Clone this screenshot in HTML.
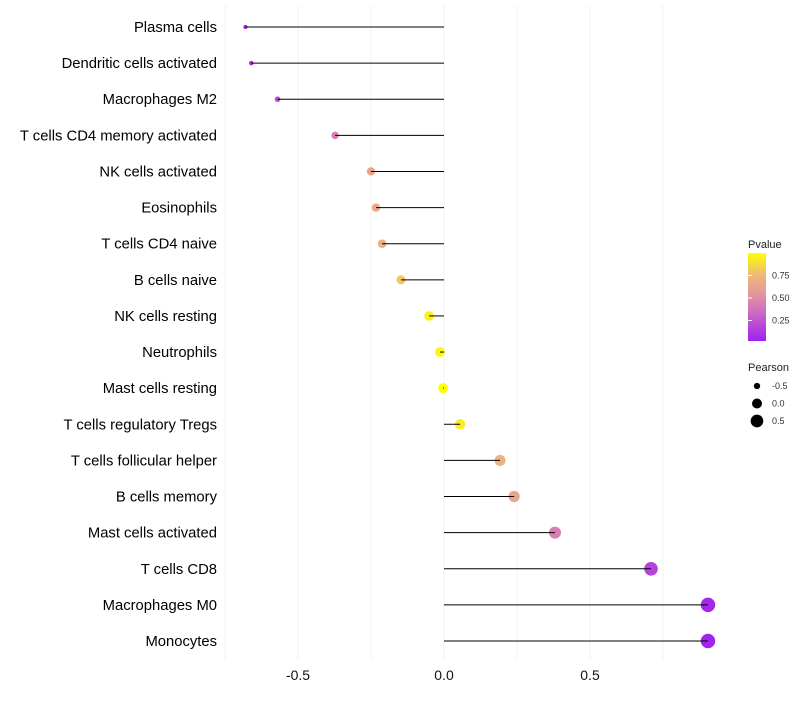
<!DOCTYPE html>
<html><head><meta charset="utf-8"><style>
body{margin:0;background:#fff;font-family:"Liberation Sans",sans-serif}
</style></head><body>
<svg id="c" width="800" height="700" xmlns="http://www.w3.org/2000/svg"></svg>
<script>
const categories=["Plasma cells","Dendritic cells activated","Macrophages M2","T cells CD4 memory activated","NK cells activated","Eosinophils","T cells CD4 naive","B cells naive","NK cells resting","Neutrophils","Mast cells resting","T cells regulatory  Tregs ","T cells follicular helper","B cells memory","Mast cells activated","T cells CD8","Macrophages M0","Monocytes"];
const pearson=[-0.68,-0.66,-0.57,-0.373,-0.25,-0.233,-0.212,-0.147,-0.051,-0.014,-0.003,0.055,0.192,0.24,0.38,0.709,0.904,0.904];
const pvalue=[0.04,0.06,0.2,0.42,0.62,0.66,0.7,0.8,0.95,0.98,1.0,0.93,0.72,0.63,0.42,0.15,0.03,0.02];
const xTicks=[-0.5,0,0.5];
const xTickLabels=["-0.5","0.0","0.5"];
const xGrid=[-0.75,-0.5,-0.25,0,0.25,0.5,0.75];
const legendP=[0.25,0.5,0.75];
const legendPLabels=["0.25","0.50","0.75"];
const legendS=[-0.5,0,0.5];
const legendSLabels=["-0.5","0.0","0.5"];

const NS="http://www.w3.org/2000/svg",svg=document.getElementById('c');
const X=v=>444+v*292;
const Y=i=>27+i*(614/17);
const R=v=>Math.sqrt(Math.max(1,25+30*v));
const stops=[[0,[160,32,240]],[0.35,[208,112,192]],[0.55,[227,154,152]],[0.75,[239,184,122]],[1,[255,255,0]]];
function col(p){for(let k=1;k<stops.length;k++){if(p<=stops[k][0]){const a=stops[k-1],b=stops[k],t=(p-a[0])/(b[0]-a[0]);return 'rgb('+a[1].map((c,j)=>Math.round(c+(b[1][j]-c)*t)).join(',')+')';}}return 'rgb(255,255,0)';}
function el(t,a,txt){const e=document.createElementNS(NS,t);for(const k in a)e.setAttribute(k,a[k]);if(txt!=null)e.textContent=txt;svg.appendChild(e);return e;}

xGrid.forEach(v=>{const g=el('line',{x1:X(v),x2:X(v),y1:5,y2:660,stroke:'#f3f3f3','stroke-width':1});

});
xTicks.forEach((v,i)=>{const t=el('text',{x:X(v),y:680,'text-anchor':'middle','font-size':14,fill:'#111'},xTickLabels[i]);

});
categories.forEach((c,i)=>{
const t=el('text',{x:217,y:Y(i)+5,'text-anchor':'end','font-size':14.8,fill:'#000','xml:space':'preserve'},c);


const d=el('circle',{cx:X(pearson[i]),cy:Y(i),r:R(pearson[i]),fill:col(pvalue[i])});


const l=el('line',{x1:X(0),x2:X(pearson[i]),y1:Y(i),y2:Y(i),stroke:'#000','stroke-width':1});


});
const defs=el('defs',{});
const lg=document.createElementNS(NS,'linearGradient');lg.setAttribute('id','pg');lg.setAttribute('x1',0);lg.setAttribute('y1',1);lg.setAttribute('x2',0);lg.setAttribute('y2',0);
stops.forEach(s=>{const st=document.createElementNS(NS,'stop');st.setAttribute('offset',s[0]);st.setAttribute('stop-color','rgb('+s[1].join(',')+')');lg.appendChild(st);});
defs.appendChild(lg);
const lt=el('text',{x:748,y:248,'font-size':11,fill:'#222'},'Pvalue');


const bar=el('rect',{x:748,y:253,width:18,height:88,fill:'url(#pg)'});


const PY=p=>343-p*90;
legendP.forEach((p,i)=>{
const tk=el('line',{x1:748,x2:752,y1:PY(p),y2:PY(p),stroke:'#fff','stroke-width':1});


const t=el('text',{x:772,y:PY(p)+3,'font-size':9,fill:'#333'},legendPLabels[i]);

});
const st=el('text',{x:748,y:371,'font-size':11,fill:'#222'},'Pearson');


legendS.forEach((v,i)=>{const yy=386+i*17.5;
const c=el('circle',{cx:757,cy:yy,r:R(v),fill:'#000'});


const t=el('text',{x:772,y:yy+3,'font-size':9,fill:'#333'},legendSLabels[i]);

});
</script>
</body></html>
